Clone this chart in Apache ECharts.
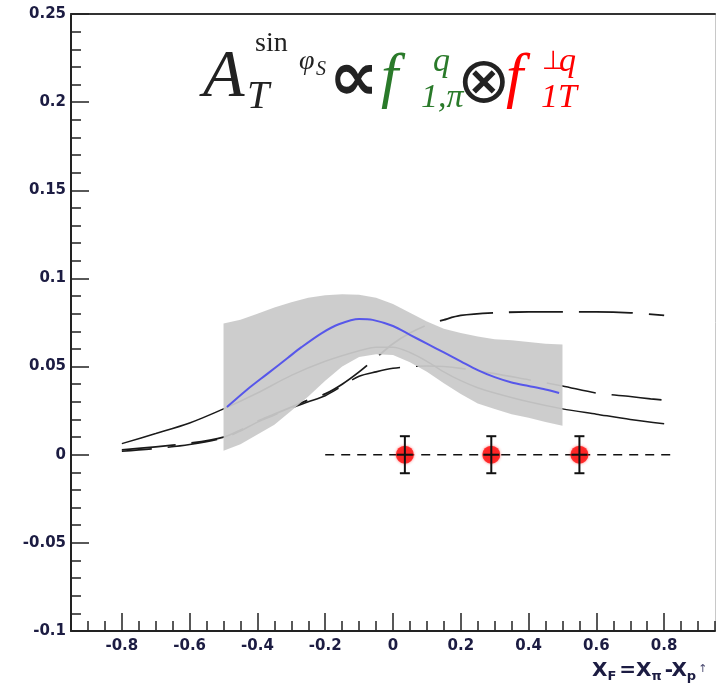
<!DOCTYPE html>
<html>
<head>
<meta charset="utf-8">
<script src="https://cdn.jsdelivr.net/npm/echarts@6/dist/echarts.min.js"></script>
<style>
  html, body { margin: 0; padding: 0; background: #ffffff; }
  #chart { width: 716px; height: 690px; }
</style>
</head>
<body>
<div id="chart"></div>
<script>
// Axis ticks
const xTickLabels = [-0.8, -0.6, -0.4, -0.2, 0, 0.2, 0.4, 0.6, 0.8];

// Model curve: solid
const solidX = [-0.8, -0.7, -0.6, -0.5, -0.4, -0.3, -0.2, -0.1, -0.05, 0, 0.05, 0.1, 0.15, 0.2, 0.25, 0.3, 0.4, 0.5, 0.6, 0.7, 0.8];
const solidY = [0.0063, 0.012, 0.018, 0.026, 0.035, 0.045, 0.053, 0.059, 0.061, 0.061, 0.058, 0.053, 0.047, 0.042, 0.038, 0.035, 0.030, 0.026, 0.023, 0.020, 0.0175];

// Model curve: long dashes
const longDashX = [-0.8, -0.7, -0.6, -0.5, -0.45, -0.4, -0.35, -0.3, -0.25, -0.2, -0.15, -0.1, -0.05, 0, 0.05, 0.1, 0.15, 0.2, 0.3, 0.4, 0.5, 0.6, 0.7, 0.8];
const longDashY = [0.0028, 0.0045, 0.0065, 0.010, 0.014, 0.019, 0.023, 0.027, 0.031, 0.0345, 0.040, 0.047, 0.055, 0.063, 0.069, 0.0735, 0.0765, 0.079, 0.0805, 0.081, 0.081, 0.081, 0.0805, 0.079];

// Model curve: dashes
const dashX = [-0.8, -0.7, -0.6, -0.5, -0.45, -0.4, -0.35, -0.3, -0.25, -0.2, -0.15, -0.1, -0.05, 0, 0.05, 0.1, 0.15, 0.2, 0.3, 0.4, 0.5, 0.6, 0.7, 0.76, 0.8];
const dashY = [0.002, 0.0035, 0.0058, 0.0095, 0.0135, 0.0185, 0.0225, 0.0265, 0.030, 0.0335, 0.039, 0.0445, 0.047, 0.049, 0.050, 0.0503, 0.050, 0.049, 0.046, 0.0425, 0.039, 0.035, 0.033, 0.0317, 0.031];

// Uncertainty band of the fit
const bandX = [-0.5, -0.45, -0.4, -0.35, -0.3, -0.25, -0.2, -0.15, -0.1, -0.05, 0, 0.05, 0.1, 0.15, 0.2, 0.25, 0.3, 0.35, 0.4, 0.45, 0.5];
const bandUpper = [0.0745, 0.0765, 0.080, 0.0835, 0.0865, 0.089, 0.0905, 0.091, 0.0908, 0.089, 0.0855, 0.0805, 0.0755, 0.0715, 0.069, 0.067, 0.0655, 0.065, 0.064, 0.063, 0.0625];
const bandLower = [0.0023, 0.006, 0.0115, 0.017, 0.025, 0.033, 0.042, 0.050, 0.0555, 0.057, 0.0565, 0.0525, 0.047, 0.0405, 0.0345, 0.029, 0.026, 0.023, 0.021, 0.0185, 0.0165];

// Central fit curve
const fitX = [-0.49, -0.43, -0.37, -0.31, -0.27, -0.21, -0.16, -0.1, -0.06, 0, 0.05, 0.1, 0.15, 0.2, 0.25, 0.3, 0.35, 0.4, 0.45, 0.49];
const fitY = [0.027, 0.037, 0.046, 0.055, 0.061, 0.069, 0.074, 0.077, 0.0765, 0.073, 0.068, 0.063, 0.058, 0.053, 0.048, 0.044, 0.041, 0.039, 0.037, 0.035];

// Projected points with uncertainties
const pointX = [0.035, 0.29, 0.55];
const pointY = [0, 0, 0];
const pointErr = [0.0105, 0.0105, 0.0105];

// Reference line at zero
const zeroLineX = [-0.2, 0.83];
const zeroLineY = [0, 0];

const zip = (xs, ys) => xs.map((x, i) => [x, ys[i]]);

const labelColor = '#1c1c42';
const labelFont = { fontFamily: 'DejaVu Sans', fontWeight: 'bold', fontSize: 15, color: labelColor };
const serif = 'Liberation Serif';

function mathText(text, x, y, size, color, opts) {
  opts = opts || {};
  return {
    type: 'text', x: x, y: y, z: 100,
    style: {
      text: text,
      font: (opts.italic === false ? '' : 'italic ') + (opts.bold ? 'bold ' : '') + size + 'px "' + (opts.family || serif) + '"',
      fill: color,
      verticalAlign: 'middle',
      align: 'left'
    }
  };
}

const chart = echarts.init(document.getElementById('chart'), null, { renderer: 'canvas' });

const option = {
  animation: false,
  backgroundColor: '#ffffff',
  grid: { left: 71, top: 14, right: 1, bottom: 59 },
  xAxis: [
    {
      type: 'value', min: -0.95, max: 0.95, position: 'bottom',
      axisLine: { show: true, onZero: false, lineStyle: { color: '#222', width: 2 } },
      axisTick: { show: true, inside: true, length: 18, customValues: xTickLabels, lineStyle: { color: '#222', width: 1.5 } },
      axisLabel: Object.assign({ customValues: xTickLabels, margin: 8, formatter: v => String(Math.round(v * 10) / 10) }, labelFont),
      splitLine: { show: false }
    },
    {
      type: 'value', min: -0.95, max: 0.95, interval: 0.05, position: 'bottom',
      axisLine: { show: false, onZero: false },
      axisTick: { show: true, inside: true, length: 10, lineStyle: { color: '#222', width: 1.5 } },
      axisLabel: { show: false },
      splitLine: { show: false }
    },
    {
      type: 'value', min: -0.95, max: 0.95, position: 'top',
      axisLine: { show: true, onZero: false, lineStyle: { color: '#333', width: 2 } },
      axisTick: { show: false }, axisLabel: { show: false }, splitLine: { show: false }
    }
  ],
  yAxis: [
    {
      type: 'value', min: -0.1, max: 0.25, interval: 0.05, position: 'left',
      axisLine: { show: true, onZero: false, lineStyle: { color: '#222', width: 2 } },
      axisTick: { show: true, inside: true, length: 18, lineStyle: { color: '#222', width: 1.5 } },
      minorTick: { show: true, splitNumber: 5, length: 10, lineStyle: { color: '#222', width: 1.5 } },
      axisLabel: Object.assign({ margin: 5 }, labelFont),
      splitLine: { show: false }
    },
    {
      type: 'value', min: -0.1, max: 0.25, position: 'right',
      axisLine: { show: true, onZero: false, lineStyle: { color: '#c8c8c8', width: 1 } },
      axisTick: { show: false }, axisLabel: { show: false }, splitLine: { show: false }
    }
  ],
  series: [
    {
      name: 'solid', type: 'line', z: 2, smooth: 0.3, showSymbol: false, silent: true,
      data: zip(solidX, solidY),
      lineStyle: { color: '#1a1a1a', width: 1.5 }
    },
    {
      name: 'longDash', type: 'line', z: 2, smooth: 0.3, showSymbol: false, silent: true,
      data: zip(longDashX, longDashY),
      lineStyle: { color: '#1a1a1a', width: 1.8, type: [54, 16] }
    },
    {
      name: 'dash', type: 'line', z: 2, smooth: 0.3, showSymbol: false, silent: true,
      data: zip(dashX, dashY),
      lineStyle: { color: '#1a1a1a', width: 1.6, type: [50, 16], dashOffset: 20 }
    },
    {
      name: 'band', type: 'custom', z: 3, silent: true,
      data: [[0, 0]],
      encode: { x: 0, y: 1 },
      renderItem: function (params, api) {
        const pts = [];
        for (let i = 0; i < bandX.length; i++) pts.push(api.coord([bandX[i], bandUpper[i]]));
        for (let i = bandX.length - 1; i >= 0; i--) pts.push(api.coord([bandX[i], bandLower[i]]));
        return { type: 'polygon', shape: { points: pts }, style: { fill: '#cacaca', opacity: 0.94 } };
      }
    },
    {
      name: 'fit', type: 'line', z: 4, smooth: 0.3, showSymbol: false, silent: true,
      data: zip(fitX, fitY),
      lineStyle: { color: '#5757ea', width: 2 }
    },
    {
      name: 'zero', type: 'line', z: 5, showSymbol: false, silent: true,
      data: zip(zeroLineX, zeroLineY),
      lineStyle: { color: '#111', width: 1.5, type: [9, 7] }
    },
    {
      name: 'points', type: 'scatter', z: 6, silent: true,
      data: zip(pointX, pointY),
      symbol: 'circle', symbolSize: 18,
      itemStyle: { color: '#ff0c0c', shadowColor: 'rgba(255,0,0,0.6)', shadowBlur: 3 }
    },
    {
      name: 'errors', type: 'custom', z: 7, silent: true,
      data: pointX.map((x, i) => [x, pointY[i], pointErr[i]]),
      encode: { x: 0, y: 1 },
      renderItem: function (params, api) {
        const x = api.value(0), y = api.value(1), e = api.value(2);
        const hi = api.coord([x, y + e]);
        const lo = api.coord([x, y - e]);
        const c = api.coord([x, y]);
        const st = { stroke: '#111', lineWidth: 2 };
        return {
          type: 'group',
          children: [
            { type: 'line', shape: { x1: hi[0], y1: hi[1], x2: lo[0], y2: lo[1] }, style: st },
            { type: 'line', shape: { x1: hi[0] - 5, y1: hi[1], x2: hi[0] + 5, y2: hi[1] }, style: st },
            { type: 'line', shape: { x1: lo[0] - 5, y1: lo[1], x2: lo[0] + 5, y2: lo[1] }, style: st },
            { type: 'line', shape: { x1: c[0] - 8, y1: c[1], x2: c[0] + 8, y2: c[1] }, style: st }
          ]
        };
      }
    }
  ],
  graphic: [
    // Formula: A_T^{sin phi_S} ∝ f_{1,π}^q ⊗ f_{1T}^{⊥q}
    mathText('A', 203, 78, 68, '#222'),
    mathText('T', 247, 97, 40, '#222'),
    mathText('sin', 255, 44, 28, '#222', { italic: false }),
    mathText('φ', 299, 62, 28, '#222'),
    mathText('S', 316, 70, 20, '#222'),
    mathText('∝', 329, 82, 70, '#222', { italic: false, bold: true, family: 'DejaVu Sans' }),
    mathText('f', 381, 80, 62, '#2a7a2a'),
    mathText('q', 433, 62, 34, '#2a7a2a'),
    mathText('1,π', 421, 98, 34, '#2a7a2a'),
    mathText('⊗', 457, 85, 64, '#222', { italic: false, family: 'DejaVu Sans' }),
    mathText('f', 506, 80, 62, '#ff0000'),
    mathText('⊥', 542, 62, 26, '#ff0000', { italic: false, family: 'DejaVu Sans' }),
    mathText('q', 559, 62, 34, '#ff0000'),
    mathText('1T', 541, 98, 34, '#ff0000'),
    // Axis title: x_F = x_π - x_p↑
    {
      type: 'text', x: 592, y: 671, z: 100,
      style: {
        text: '{b|X}{s|F}{e|=X}{s|π}{m|-X}{s|p}{u|↑}',
        verticalAlign: 'middle', align: 'left',
        rich: {
          b: { fontFamily: 'DejaVu Sans', fontWeight: 'bold', fontSize: 20, fill: labelColor },
          e: { fontFamily: 'DejaVu Sans', fontWeight: 'bold', fontSize: 20, fill: labelColor, padding: [0, 0, 0, 2] },
          m: { fontFamily: 'DejaVu Sans', fontWeight: 'bold', fontSize: 20, fill: labelColor, padding: [0, 0, 0, 2] },
          s: { fontFamily: 'DejaVu Sans', fontWeight: 'bold', fontSize: 13, fill: labelColor, padding: [12, 1, 0, 0] },
          u: { fontFamily: 'DejaVu Sans', fontSize: 11, fill: '#4a4a70', padding: [0, 0, 4, 1] }
        }
      }
    }
  ]
};

chart.setOption(option);
</script>
</body>
</html>
